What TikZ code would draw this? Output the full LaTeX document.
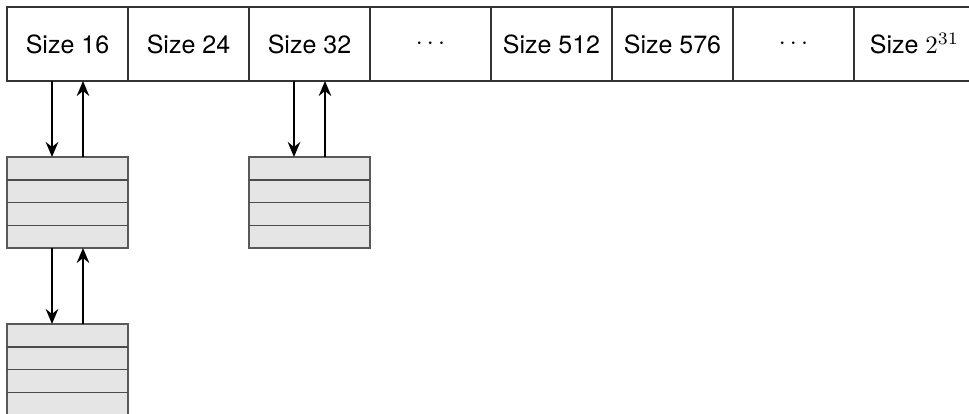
\documentclass[tikz,border=0pt]{standalone}
\usepackage{fontspec}
\setmainfont{TeX Gyre Heros}
\usetikzlibrary{calc,arrows.meta}
\begin{document}
\begin{tikzpicture}[x=0.4pt,y=-0.4pt,
  cell/.style={draw=black!80,line width=0.6pt,minimum width=121*0.4pt,minimum height=74*0.4pt,
    inner sep=0pt,outer sep=0pt,anchor=north west,font=\fontsize{10}{12}\selectfont},
  bin/.style={draw=black!65,fill=black!10,line width=0.6pt,minimum width=121*0.4pt,
    minimum height=91*0.4pt,inner sep=0pt,outer sep=0pt,anchor=north west},
  rowline/.style={draw=black!70,line width=0.6pt},
  link/.style={line width=1.1pt,-{Stealth[length=6pt,width=5pt,inset=2pt]}}]
\useasboundingbox (0,0) rectangle (969,414);
% size classes along the top
\node[cell] (c1) at (7,7) {Size 16};
\node[cell] (c2) at (128,7) {Size 24};
\node[cell] (c3) at (249,7) {Size 32};
\node[cell] (c4) at (370,7) {$\cdots$};
\node[cell] (c5) at (491,7) {Size 512};
\node[cell] (c6) at (612,7) {Size 576};
\node[cell] (c7) at (733,7) {$\cdots$};
\node[cell] (c8) at (854,7) {Size $2^{31}$};
% free-list blocks
\node[bin] (b1) at (7,157) {};
\node[bin] (b2) at (7,324) {};
\node[bin] (b3) at (249,157) {};
\foreach \b in {b1,b2,b3}{
  \foreach \f in {0.25,0.5,0.75}{
    \draw[rowline] ($(\b.north west)!\f!(\b.south west)$) -- ($(\b.north east)!\f!(\b.south east)$);
  }
}
% forward and backward links
\draw[link] ($(c1.south west)+(45,0)$) -- ($(b1.north west)+(45,0)$);
\draw[link] ($(b1.north west)+(76,0)$) -- ($(c1.south west)+(76,0)$);
\draw[link] ($(b1.south west)+(45,0)$) -- ($(b2.north west)+(45,0)$);
\draw[link] ($(b2.north west)+(76,0)$) -- ($(b1.south west)+(76,0)$);
\draw[link] ($(c3.south west)+(45,0)$) -- ($(b3.north west)+(45,0)$);
\draw[link] ($(b3.north west)+(76,0)$) -- ($(c3.south west)+(76,0)$);
\end{tikzpicture}
\end{document}
